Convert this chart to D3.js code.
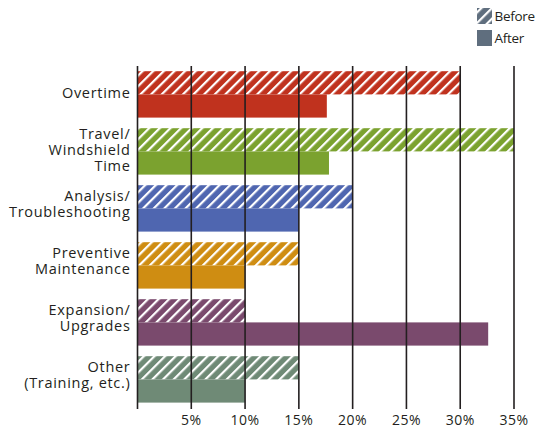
<!DOCTYPE html>
<html>
<head>
<meta charset="utf-8">
<script src="https://cdn.jsdelivr.net/npm/d3@7"></script>
<style>
  body { margin: 0; background: #fff; }
  svg { display: block; font-family: "Open Sans", "Noto Sans", sans-serif; }
</style>
</head>
<body>
<div id="chart"></div>
<script>
// chart data
const categories = [
    ["Overtime"],
    ["Travel/", "Windshield", "Time"],
    ["Analysis/", "Troubleshooting"],
    ["Preventive", "Maintenance"],
    ["Expansion/", "Upgrades"],
    ["Other", "(Training, etc.)"]
];
const beforeValues = [30, 35, 20, 15, 10, 15];
const afterValues = [17.6, 17.8, 15, 10, 32.6, 10];
const barColors = ["#c0321e", "#7ba22f", "#4f66b0", "#cf8d12", "#7a4a6d", "#6f8a76"];
const tickValues = [5, 10, 15, 20, 25, 30, 35];
const seriesNames = ["Before", "After"];

const width = 535, height = 427;
const margin = { top: 66, right: 21, bottom: 19, left: 137.5 };

const svg = d3.select("#chart")
    .append("svg")
    .attr("width", width)
    .attr("height", height);

const defs = svg.append("defs");

// one hatch pattern per colour
barColors.concat(["#5f6e7e"]).forEach((c, i) => {
    const p = defs.append("pattern")
        .attr("id", "hatch" + i)
        .attr("patternUnits", "userSpaceOnUse")
        .attr("width", 7.5)
        .attr("height", 7.5)
        .attr("patternTransform", "rotate(45)");
    p.append("rect")
        .attr("width", 7.5)
        .attr("height", 7.5)
        .attr("fill", c);
    p.append("rect")
        .attr("x", 0)
        .attr("width", 2.2)
        .attr("height", 7.5)
        .attr("fill", "#fff");
});

const x = d3.scaleLinear()
    .domain([0, 35])
    .range([margin.left, width - margin.right]);

const y = d3.scaleBand()
    .domain(d3.range(categories.length))
    .range([margin.top, height - margin.bottom]);

const barH = 23.2;

// bars
const g = svg.append("g");
categories.forEach((cat, i) => {
    const top = y(i) + 5.2;
    g.append("rect")
        .attr("x", x(0))
        .attr("y", top)
        .attr("width", x(beforeValues[i]) - x(0))
        .attr("height", barH)
        .attr("fill", `url(#hatch${i})`);
    g.append("rect")
        .attr("x", x(0))
        .attr("y", top + barH)
        .attr("width", x(afterValues[i]) - x(0))
        .attr("height", barH)
        .attr("fill", barColors[i]);
});

// grid lines drawn over bars
svg.append("g")
    .selectAll("line")
    .data([0].concat(tickValues))
    .join("line")
    .attr("x1", d => x(d))
    .attr("x2", d => x(d))
    .attr("y1", margin.top)
    .attr("y2", height - margin.bottom + 1)
    .attr("stroke", "#231f20")
    .attr("stroke-width", 1.6);

// x axis labels
svg.append("g")
    .selectAll("text")
    .data(tickValues)
    .join("text")
    .attr("x", d => x(d))
    .attr("y", 424.5)
    .attr("text-anchor", "middle")
    .attr("font-size", 14)
    .attr("letter-spacing", 0.5)
    .attr("fill", "#231f20")
    .text(d => d + "%");

// category labels
categories.forEach((lines, i) => {
    const cy = y(i) + y.bandwidth() / 2 + 3.5;
    const lh = 16;
    const t = svg.append("text")
        .attr("text-anchor", "end")
        .attr("font-size", 14.5)
        .attr("letter-spacing", 0.7)
        .attr("fill", "#231f20");
    lines.forEach((l, j) => {
        t.append("tspan")
            .attr("x", 130.5)
            .attr("y", cy + (j - (lines.length - 1) / 2) * lh - (lines.length === 2 ? 3 : 0))
            .text(l);
    });
});

// legend
const legend = svg.append("g");
seriesNames.forEach((s, i) => {
    const ly = 8 + i * 22;
    legend.append("rect")
        .attr("x", 477)
        .attr("y", ly)
        .attr("width", 15)
        .attr("height", 16)
        .attr("fill", i === 0 ? "url(#hatch6)" : "#5f6e7e");
    legend.append("text")
        .attr("x", 494.5)
        .attr("y", ly + 13)
        .attr("font-size", 13.5)
        .attr("letter-spacing", -0.3)
        .attr("fill", "#231f20")
        .text(s);
});
</script>
</body>
</html>
